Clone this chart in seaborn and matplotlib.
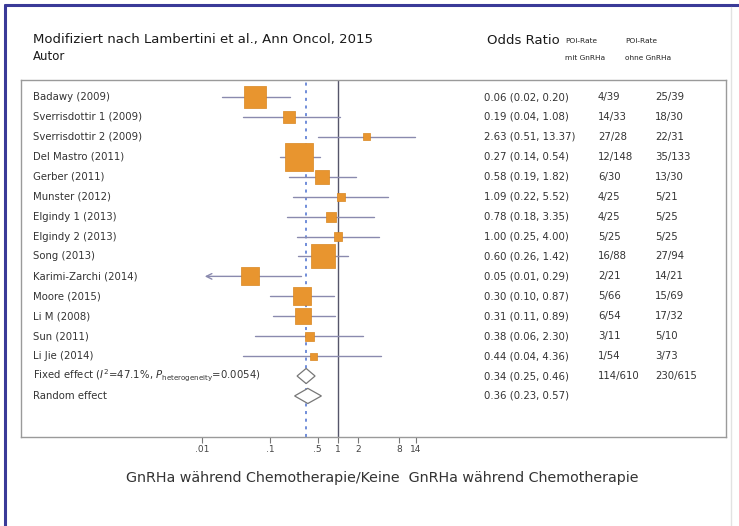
import numpy as np
import pandas as pd
import matplotlib
matplotlib.use("Agg")
import matplotlib.pyplot as plt
from matplotlib.lines import Line2D
from matplotlib.patches import Polygon
from matplotlib.transforms import blended_transform_factory
import seaborn as sns

# ---------------- data ----------------
studies = ["Badawy (2009)", "Sverrisdottir 1 (2009)", "Sverrisdottir 2 (2009)",
           "Del Mastro (2011)", "Gerber (2011)", "Munster (2012)",
           "Elgindy 1 (2013)", "Elgindy 2 (2013)", "Song (2013)",
           "Karimi-Zarchi (2014)", "Moore (2015)", "Li M (2008)",
           "Sun (2011)", "Li Jie (2014)"]
odds_ratio = [0.06, 0.19, 2.63, 0.27, 0.58, 1.09, 0.78, 1.00, 0.60, 0.05, 0.30, 0.31, 0.38, 0.44]
ci_low =     [0.02, 0.04, 0.51, 0.14, 0.19, 0.22, 0.18, 0.25, 0.26, 0.01, 0.10, 0.11, 0.06, 0.04]
ci_high =    [0.20, 1.08, 13.37, 0.54, 1.82, 5.52, 3.35, 4.00, 1.42, 0.29, 0.87, 0.89, 2.30, 4.36]
weights =    [14.3, 4.2, 1.4, 23.1, 5.8, 1.9, 2.9, 1.9, 17.0, 9.6, 9.6, 7.5, 2.4, 1.4]
or_text = ["0.06 (0.02, 0.20)", "0.19 (0.04, 1.08)", "2.63 (0.51, 13.37)",
           "0.27 (0.14, 0.54)", "0.58 (0.19, 1.82)", "1.09 (0.22, 5.52)",
           "0.78 (0.18, 3.35)", "1.00 (0.25, 4.00)", "0.60 (0.26, 1.42)",
           "0.05 (0.01, 0.29)", "0.30 (0.10, 0.87)", "0.31 (0.11, 0.89)",
           "0.38 (0.06, 2.30)", "0.44 (0.04, 4.36)"]
poi_mit = ["4/39", "14/33", "27/28", "12/148", "6/30", "4/25", "4/25", "5/25",
           "16/88", "2/21", "5/66", "6/54", "3/11", "1/54"]
poi_ohne = ["25/39", "18/30", "22/31", "35/133", "13/30", "5/21", "5/25", "5/25",
            "27/94", "14/21", "15/69", "17/32", "5/10", "3/73"]

pooled_labels = [r"Fixed effect ($I^2$=47.1%, $P_{\mathrm{heterogeneity}}$=0.0054)", "Random effect"]
pooled_or = [0.34, 0.36]
pooled_low = [0.25, 0.23]
pooled_high = [0.46, 0.57]
pooled_text = ["0.34 (0.25, 0.46)", "0.36 (0.23, 0.57)"]
pooled_mit = ["114/610", ""]
pooled_ohne = ["230/615", ""]

tick_values = [0.01, 0.1, 0.5, 1, 2, 8, 14]
tick_labels = [".01", ".1", ".5", "1", "2", "8", "14"]

title = "Modifiziert nach Lambertini et al., Ann Oncol, 2015"
xlabel = "GnRHa während Chemotherapie/Keine  GnRHa während Chemotherapie"

# ---------------- figure ----------------
sns.set_style("white")
plt.rcParams["font.family"] = ["DejaVu Sans"]

W, H = 739, 526
fig = plt.figure(figsize=(W / 100, H / 100), dpi=100)
fig.patch.set_facecolor("white")

# box in pixel coords
bx0, bx1, by0, by1 = 21, 726, 80, 437
ax = fig.add_axes([bx0 / W, 1 - by1 / H, (bx1 - bx0) / W, (by1 - by0) / H])
ax.set_xscale("log")

# x mapping: px = 338 + 68*log10(v)
xc, dec = 338.0, 68.0
ax.set_xlim(10 ** ((bx0 - xc) / dec), 10 ** ((bx1 - xc) / dec))
# y mapping: px = 97 + 19.93*row
y0, dy = 97.0, 19.93
ax.set_ylim((by1 - y0) / dy, (by0 - y0) / dy)

n = len(studies)
rows = np.arange(n)
df = pd.DataFrame({"study": studies, "or": odds_ratio, "lo": ci_low,
                   "hi": ci_high, "w": weights, "row": rows})

ci_col = "#8a8aae"
# CI lines (Karimi-Zarchi truncated with arrow)
for r, lo, hi, o in zip(rows, ci_low, ci_high, odds_ratio):
    if lo <= 0.01:
        ax.plot([o, hi], [r, r], color=ci_col, lw=1.0, zorder=2)
        ax.annotate("", xy=(lo, r), xytext=(o, r),
                    arrowprops=dict(arrowstyle="->", color=ci_col, lw=1.0), zorder=2)
    else:
        ax.plot([lo, hi], [r, r], color=ci_col, lw=1.0, zorder=2)

sns.scatterplot(data=df, x="or", y="row", size="w", sizes=(25, 406),
                marker="s", color="#e8952f", edgecolor="#d9861f", linewidth=0.5,
                legend=False, ax=ax, zorder=3)

# reference lines
ax.axvline(1, color="#55556a", lw=1.0, zorder=1)
ax.axvline(pooled_or[0], color="#4a6fd0", lw=1.1, ls=(0, (2, 3)), zorder=1)

# pooled diamonds
for k in range(2):
    r = n + k
    pts = [(pooled_low[k], r), (pooled_or[k], r - 0.38),
           (pooled_high[k], r), (pooled_or[k], r + 0.38)]
    ax.add_patch(Polygon(pts, closed=True, facecolor="white",
                         edgecolor="#777777", lw=0.9, zorder=4))

# axes styling
for s in ax.spines.values():
    s.set_color("#9a9a9a")
    s.set_linewidth(1.0)
ax.set_xticks(tick_values)
ax.set_xticklabels(tick_labels)
ax.minorticks_off()
ax.tick_params(axis="x", which="major", bottom=True, direction="out", length=4, width=0.8,
               color="#777777", labelsize=6.5, labelcolor="#444444", pad=1.5)
ax.set_yticks([])
ax.set_xlabel("")
ax.set_ylabel("")

# text columns
tr = blended_transform_factory(fig.transFigure, ax.transData)
txt_col = "#333333"
fs = 7.3
all_labels = studies + pooled_labels
all_or = or_text + pooled_text
all_mit = poi_mit + pooled_mit
all_ohne = poi_ohne + pooled_ohne
for r in range(n + 2):
    ax.text(33 / W, r, all_labels[r], transform=tr, ha="left", va="center",
            fontsize=fs, color=txt_col)
    ax.text(484 / W, r, all_or[r], transform=tr, ha="left", va="center",
            fontsize=fs, color=txt_col)
    ax.text(598 / W, r, all_mit[r], transform=tr, ha="left", va="center",
            fontsize=fs, color=txt_col)
    ax.text(655 / W, r, all_ohne[r], transform=tr, ha="left", va="center",
            fontsize=fs, color=txt_col)

# header
fig.text(33 / W, 1 - 40 / H, title, ha="left", va="center", fontsize=9.5,
         color="#1a1a1a")
fig.text(33 / W, 1 - 57 / H, "Autor", ha="left", va="center", fontsize=8.5,
         color="#1a1a1a")
fig.text(487 / W, 1 - 40 / H, "Odds Ratio", ha="left", va="center", fontsize=9.5,
         color="#1a1a1a")
fig.text(565 / W, 1 - 41 / H, "POI-Rate", ha="left", va="center", fontsize=5.3, color="#222222")
fig.text(625 / W, 1 - 41 / H, "POI-Rate", ha="left", va="center", fontsize=5.3, color="#222222")
fig.text(565 / W, 1 - 58 / H, "mit GnRHa", ha="left", va="center", fontsize=5.3, color="#222222")
fig.text(625 / W, 1 - 58 / H, "ohne GnRHa", ha="left", va="center", fontsize=5.3, color="#222222")

# bottom label
fig.text(382 / W, 1 - 478 / H, xlabel, ha="center", va="center", fontsize=10.3,
         color="#333333")

# slide frame
fig.add_artist(Line2D([5 / W, 5 / W], [0, 1 - 5 / H], transform=fig.transFigure,
                      color="#3a3a98", lw=2.2))
fig.add_artist(Line2D([5 / W, 1], [1 - 5 / H, 1 - 5 / H], transform=fig.transFigure,
                      color="#3a3a98", lw=2.2))
fig.add_artist(Line2D([731 / W, 731 / W], [0, 1 - 7 / H], transform=fig.transFigure,
                      color="#e2e2e2", lw=1.0))

fig.savefig("out.png", dpi=100, facecolor="white")
